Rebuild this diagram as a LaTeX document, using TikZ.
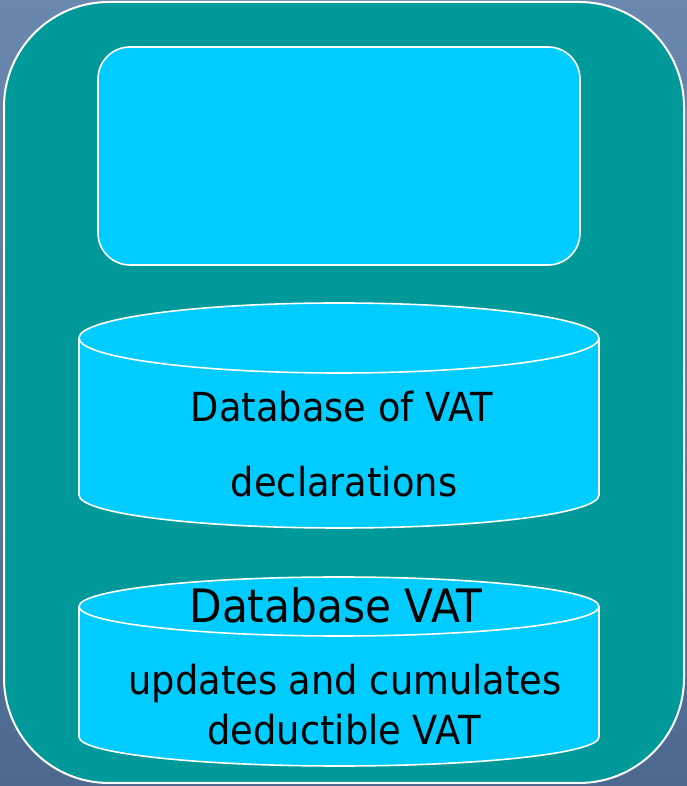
\documentclass[tikz,border=0pt]{standalone}
\usepackage{fontspec}
\setmainfont{DejaVu Sans}[FakeStretch=0.92]
\definecolor{bgtop}{HTML}{6A88AE}
\definecolor{bgbot}{HTML}{4C6990}
\definecolor{teal}{HTML}{009999}
\definecolor{cyanbox}{HTML}{00CCFF}
\tikzset{
  outline/.style={draw=white, line width=1.6pt},
  lbl/.style={anchor=base, inner sep=0pt, text=black},
}
\begin{document}
\begin{tikzpicture}[x=1pt,y=1pt]
\useasboundingbox (0,0) rectangle (687,786);
\shade[top color=bgtop, bottom color=bgbot] (0,0) rectangle (687,786);
% outer panel
\path[fill=teal, outline, line width=2pt, rounded corners=105pt] (4,3) rectangle (684,784);
% inner rounded box
\path[fill=cyanbox, outline, rounded corners=32pt] (98,521) rectangle (580,739);
% cylinder 1
\path[fill=cyanbox, outline] (79,448) -- (79,291) arc[start angle=180, end angle=360, x radius=260, y radius=33]
  -- (599,448) arc[start angle=0, end angle=180, x radius=260, y radius=35] -- cycle;
\draw[outline] (79,448) arc[start angle=180, end angle=360, x radius=260, y radius=35];
% cylinder 2
\path[fill=cyanbox, outline] (79,179.5) -- (79,49) arc[start angle=180, end angle=360, x radius=260, y radius=29]
  -- (599,179.5) arc[start angle=0, end angle=180, x radius=260, y radius=29.5] -- cycle;
\draw[outline] (79,179.5) arc[start angle=180, end angle=360, x radius=260, y radius=29.5];
% texts
\node[lbl, font=\fontsize{40}{48}\selectfont] (t1) at (342,364) {Database of VAT};
\node[lbl, font=\fontsize{40}{48}\selectfont] (t2) at (344,289) {declarations};
\node[lbl, font=\fontsize{46}{54}\selectfont] (t3) at (336,163) {Database VAT};
\node[lbl, font=\fontsize{40}{48}\selectfont] (t4) at (345,91) {updates and cumulates};
\node[lbl, font=\fontsize{40}{48}\selectfont] (t5) at (344,41) {deductible VAT};
\end{tikzpicture}
\end{document}
